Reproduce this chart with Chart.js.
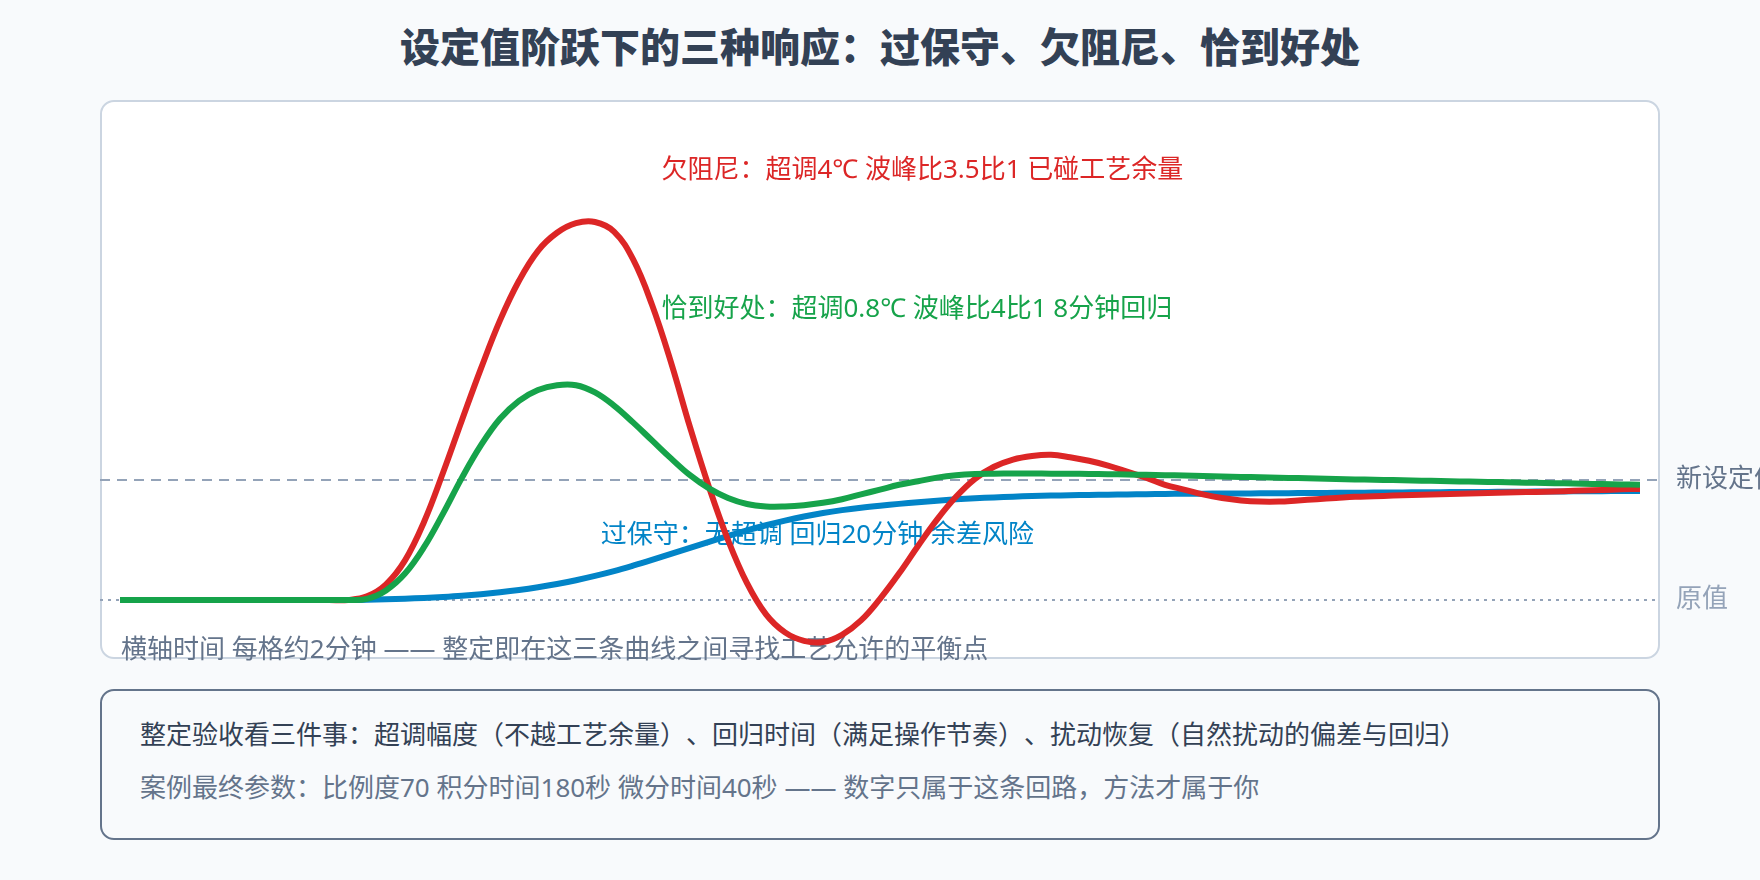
<!DOCTYPE html>
<html lang="zh-CN">
<head>
<meta charset="utf-8">
<title>设定值阶跃下的三种响应</title>
<script src="https://cdn.jsdelivr.net/npm/chart.js@4.4.1/dist/chart.umd.min.js"></script>
<style>
    html, body { margin: 0; padding: 0; }
    body {
        width: 1760px; height: 880px; position: relative; overflow: hidden;
        background: #f8fafc;
        font-family: "Noto Sans", "Noto Sans CJK SC", sans-serif;
        text-spacing-trim: space-all;
    }
    .title {
        position: absolute; left: 0; top: 20px; width: 1760px;
        line-height: 54px; text-align: center;
        font-size: 40px; font-weight: 900; color: #334155;
    }
    .card {
        position: absolute; left: 100px; top: 100px; width: 1560px; height: 559px;
        box-sizing: border-box; border: 2px solid #cbd5e1; border-radius: 14px;
        background: #ffffff;
    }
    .note {
        position: absolute; left: 100px; top: 689px; width: 1560px; height: 151px;
        box-sizing: border-box; border: 2px solid #64748b; border-radius: 14px;
        background: #f8fafc;
    }
    .note-line {
        position: absolute; left: 140px; font-size: 26px; line-height: 36px; white-space: nowrap;
    }
    #chart { position: absolute; left: 0; top: 0; z-index: 2; pointer-events: none; }
</style>
</head>
<body>
<div class="title">设定值阶跃下的三种响应：过保守、欠阻尼、恰到好处</div>
<div class="card"></div>
<div class="note"></div>
<div class="note-line" style="top:716px;color:#334155">整定验收看三件事：超调幅度（不越工艺余量）、回归时间（满足操作节奏）、扰动恢复（自然扰动的偏差与回归）</div>
<div class="note-line" style="top:769px;color:#64748b">案例最终参数：比例度70 积分时间180秒 微分时间40秒 —— 数字只属于这条回路，方法才属于你</div>
<canvas id="chart" width="1760" height="880"></canvas>

<script>
// time axis: 81 samples, values are response relative to the step (0 = 原值, 1 = 新设定值)
const times = Array.from({ length: 81 }, (_, i) => i);

const baseLevel = 0;
const setpointLevel = 1;

const underdamped = [
    0, 0, 0, 0, 0, 0, 0, 0, 0, 0, 0, 0, 0,
    0.03, 0.13, 0.33, 0.65, 1.06, 1.50, 1.93, 2.33, 2.66, 2.91,
    3.06, 3.14, 3.15, 3.07, 2.84, 2.46, 1.98, 1.44, 0.94, 0.50,
    0.14, -0.12, -0.27, -0.34, -0.35, -0.29, -0.17, 0.01, 0.22, 0.45,
    0.67, 0.86, 1.01, 1.11, 1.17, 1.20, 1.21, 1.19, 1.16, 1.12,
    1.07, 1.02, 0.96, 0.92, 0.88, 0.85, 0.83, 0.82, 0.82, 0.83,
    0.84, 0.85, 0.86, 0.865, 0.870, 0.875, 0.879, 0.883, 0.887, 0.891,
    0.895, 0.899, 0.903, 0.907, 0.912, 0.917, 0.922, 0.926
];

const justRight = [
    0, 0, 0, 0, 0, 0, 0, 0, 0, 0, 0, 0, 0,
    0.01, 0.08, 0.22, 0.44, 0.72, 1.02, 1.29, 1.51, 1.66, 1.75,
    1.79, 1.79, 1.73, 1.62, 1.48, 1.33, 1.18, 1.04, 0.93, 0.85,
    0.80, 0.78, 0.78, 0.79, 0.81, 0.84, 0.88, 0.92, 0.96, 0.99,
    1.02, 1.04, 1.050, 1.053, 1.054, 1.054, 1.053, 1.052, 1.050, 1.048,
    1.046, 1.043, 1.040, 1.037, 1.033, 1.030, 1.026, 1.023, 1.019, 1.016,
    1.012, 1.009, 1.005, 1.002, 0.999, 0.996, 0.993, 0.990, 0.987, 0.984,
    0.981, 0.978, 0.975, 0.972, 0.969, 0.966, 0.963, 0.960
];

const overdamped = [
    0, 0, 0, 0, 0, 0, 0, 0, 0, 0, 0, 0, 0,
    0.002, 0.006, 0.011, 0.017, 0.025, 0.035, 0.048, 0.064, 0.083, 0.106,
    0.133, 0.165, 0.201, 0.241, 0.286, 0.334, 0.384, 0.434, 0.484, 0.533,
    0.580, 0.623, 0.662, 0.696, 0.725, 0.749, 0.769, 0.786, 0.801, 0.815,
    0.828, 0.839, 0.848, 0.855, 0.861, 0.866, 0.870, 0.873, 0.876, 0.878,
    0.880, 0.882, 0.884, 0.885, 0.886, 0.887, 0.888, 0.889, 0.890, 0.891,
    0.892, 0.893, 0.894, 0.895, 0.896, 0.897, 0.898, 0.899, 0.900, 0.901,
    0.902, 0.903, 0.904, 0.905, 0.906, 0.907, 0.908, 0.909
];

const seriesLabels = ['恰到好处', '欠阻尼', '过保守'];
const seriesColors = ['#16a34a', '#dc2626', '#0284c7'];

const levelLabels = ['新设定值', '原值'];
const footText = '横轴时间 每格约2分钟 —— 整定即在这三条曲线之间寻找工艺允许的平衡点';

// annotation text with the data point it is anchored at
const notes = [
    { text: '欠阻尼：超调4℃ 波峰比3.5比1 已碰工艺余量', color: '#dc2626', t: 28.5, v: 3.58 },
    { text: '恰到好处：超调0.8℃ 波峰比4比1 8分钟回归', color: '#16a34a', t: 28.5, v: 2.42 },
    { text: '过保守：无超调 回归20分钟 余差风险', color: '#0284c7', t: 25.3, v: 0.54 }
];

const FONT = '"Noto Sans", "Noto Sans CJK SC", sans-serif';

function toPoints(values) {
    return values.map((v, i) => ({ x: times[i], y: v }));
}

const guidesPlugin = {
    id: 'guides',
    beforeDatasetsDraw(chart) {
        const { ctx, chartArea: a, scales: { x, y } } = chart;
        const ySet = y.getPixelForValue(setpointLevel);
        const yBase = y.getPixelForValue(baseLevel);
        ctx.save();

        ctx.strokeStyle = '#94a3b8';
        ctx.lineWidth = 2;
        ctx.setLineDash([10, 7]);
        ctx.beginPath();
        ctx.moveTo(a.left - 20, ySet);
        ctx.lineTo(a.right + 17, ySet);
        ctx.stroke();

        ctx.setLineDash([3, 5]);
        ctx.beginPath();
        ctx.moveTo(a.left - 20, yBase);
        ctx.lineTo(a.right + 17, yBase);
        ctx.stroke();
        ctx.setLineDash([]);

        ctx.font = '26px ' + FONT;
        ctx.textBaseline = 'middle';
        ctx.textAlign = 'left';
        ctx.fillStyle = '#64748b';
        ctx.fillText(levelLabels[0], a.right + 36, ySet);
        ctx.fillStyle = '#94a3b8';
        ctx.fillText(levelLabels[1], a.right + 36, yBase);

        notes.forEach(n => {
            ctx.fillStyle = n.color;
            ctx.fillText(n.text, x.getPixelForValue(n.t), y.getPixelForValue(n.v));
        });

        ctx.fillStyle = '#64748b';
        ctx.fillText(footText, a.left + 1, a.bottom - 3);
        ctx.restore();
    }
};

new Chart(document.getElementById('chart'), {
    type: 'line',
    data: {
        datasets: [justRight, underdamped, overdamped].map((vals, i) => ({
            label: seriesLabels[i],
            data: toPoints(vals),
            borderColor: seriesColors[i],
            borderWidth: 6,
            pointRadius: 0,
            fill: false,
            tension: 0.4
        }))
    },
    options: {
        responsive: false,
        animation: false,
        devicePixelRatio: 1,
        layout: { padding: { left: 120, right: 120, top: 180, bottom: 226 } },
        scales: {
            x: { type: 'linear', min: 0, max: 80, display: false },
            y: { min: -0.45, max: 3.5, display: false }
        },
        plugins: { legend: { display: false }, tooltip: { enabled: false } }
    },
    plugins: [guidesPlugin]
});
</script>
</body>
</html>
